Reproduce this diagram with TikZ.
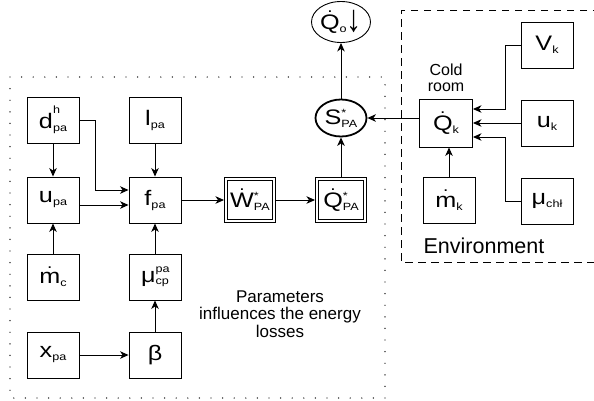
\documentclass[tikz,border=0pt]{standalone}
\usepackage{fontspec}
\setmainfont{Liberation Sans}
\newfontfamily\labfont[FakeStretch=1.2]{Liberation Sans}
\usetikzlibrary{arrows.meta,shapes.geometric}
\newcommand\sm{\fontsize{10.5}{10.5}\selectfont}
\newcommand\subsc[1]{\raisebox{-3pt}{\sm #1}}
\newcommand\supsub[4]{\makebox[0pt][l]{\raisebox{#1}{\sm #2}}\raisebox{#3}{\sm #4}}
\newcommand\dotover[2]{\vbox{\offinterlineskip\halign{\hfil##\hfil\cr{\fontsize{16}{16}\selectfont.}\cr\noalign{\kern#1}#2\cr}}}
\newcommand\downarr{\raisebox{-1.5pt}{\scalebox{1.2}[1.8]{↓}}}
\tikzset{
  lab/.style={font=\labfont\fontsize{21}{21}\selectfont},
  box/.style={draw,line width=0.9pt,minimum width=52pt,minimum height=46pt,inner sep=0pt,lab},
  dbox/.style={box,double,double distance=2.4pt,line width=0.8pt,minimum width=48pt,minimum height=42pt,outer sep=2pt},
  arr/.style={line width=1pt,-{Stealth[length=8.5pt,width=7.5pt,inset=2.5pt]}},
  dotframe/.style={line width=1.4pt,dash pattern=on 0pt off 11.6pt,line cap=round},
  dashframe/.style={line width=0.8pt,dash pattern=on 7.5pt off 5.5pt}
}
\begin{document}
\begin{tikzpicture}[x=1pt,y=-1pt]
\useasboundingbox (0,0) rectangle (594,400);
% frames
\draw[dotframe] (10,77) rectangle (385,398);
\draw[dashframe] (600,10) -- (401,10) -- (401,262) -- (600,262);
% left group
\node[box] (d) at (53,120) {d\supsub{15pt}{h}{-3pt}{pa}};
\node[box] (l) at (155,120) {l\subsc{pa}};
\node[box] (u) at (53,200) {u\subsc{pa}};
\node[box] (f) at (155,200) {f\subsc{pa}};
\node[box] (mc) at (53,277) {\dotover{4pt}{m}\subsc{c}};
\node[box] (mu) at (155,277) {μ\supsub{10pt}{pa}{-1.5pt}{cp}};
\node[box] (x) at (53,355) {x\subsc{pa}};
\node[box] (beta) at (155,355) {β};
\node[dbox] (W) at (250,200) {\dotover{2.5pt}{W}\supsub{8pt}{*}{-3pt}{PA}};
\node[dbox] (QPA) at (341,200) {\dotover{2.5pt}{Q}\supsub{8pt}{*}{-3pt}{PA}};
\node[ellipse,draw,line width=1.8pt,minimum width=51pt,minimum height=37pt,inner sep=0pt,lab] (S) at (341,118) {S\supsub{8pt}{*}{-3pt}{PA}};
\node[ellipse,draw,line width=0.9pt,minimum width=52pt,minimum height=41pt,inner sep=0pt,lab] (Qo) at (341,22) {\dotover{2.5pt}{Q}\subsc{o}\downarr};
% right group
\node[box,minimum width=53pt,minimum height=48pt] (Qk) at (446,123) {\dotover{2.5pt}{Q}\subsc{k}};
\node[box] (mk) at (449,200) {\dotover{4pt}{m}\subsc{k}};
\node[box] (Vk) at (547,45) {V\subsc{k}};
\node[box] (uk) at (547,123) {u\subsc{k}};
\node[box] (muchl) at (547,201) {μ\subsc{chł}};
% texts
\node[font=\fontsize{16}{16}\selectfont,align=center] (cold) at (446,78) {Cold\\room};
\node[font=\fontsize{21.5}{22}\selectfont] (env) at (484,246) {Environment};
\node[font=\fontsize{17}{17.5}\selectfont,align=center] (par) at (280,314) {Parameters\\influences the energy\\losses};
% connectors
\draw[arr] (d) -- (u);
\draw[arr] (d.east) -- ++(16,0) |- ([yshift=10pt]f.west);
\draw[arr] ([yshift=-5pt]u.east) -- ([yshift=-5pt]f.west);
\draw[arr] (l) -- (f);
\draw[arr] (mu) -- (f);
\draw[arr] (mc) -- (u);
\draw[arr] (x) -- (beta);
\draw[arr] (beta) -- (mu);
\draw[arr] (f) -- (W);
\draw[arr] (W) -- (QPA);
\draw[arr] (QPA) -- (S);
\draw[arr] (S) -- (Qo);
\draw[arr] (Qk.west |- S.east) -- (S.east);
\draw[arr] (mk.north) -- (mk.north |- Qk.south);
\draw[arr] (Vk.west) -- ++(-15,0) |- ([yshift=14pt]Qk.east);
\draw[arr] (uk.west) -- (uk.west -| Qk.east);
\draw[arr] (muchl.west) -- ++(-15,0) |- ([yshift=-14pt]Qk.east);
\end{tikzpicture}
\end{document}
